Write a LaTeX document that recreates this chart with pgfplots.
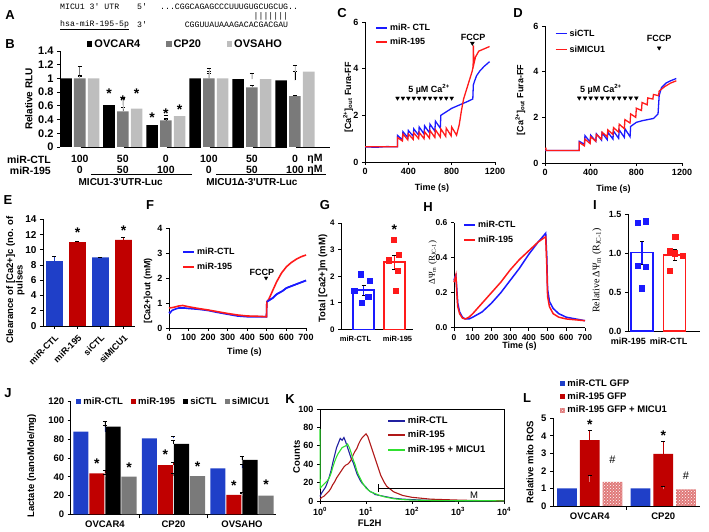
\documentclass[border=0pt]{standalone}
\usepackage{fontspec}
\setmainfont{Liberation Sans}
\newfontfamily\monofont{Liberation Mono}
\newfontfamily\seriffont{Liberation Serif}
\usepackage{pgfplots}
\pgfplotsset{compat=1.18}
\usetikzlibrary{calc,patterns}

\definecolor{exblue}{HTML}{1F3FC8}
\definecolor{exred}{HTML}{C00000}
\definecolor{gpblue}{HTML}{1A1AFF}
\definecolor{gpred}{HTML}{FF1A1A}
\definecolor{kblue}{HTML}{2020A0}
\definecolor{kred}{HTML}{B01818}
\definecolor{kgreen}{HTML}{30E030}
\definecolor{lpink}{HTML}{E07A7A}
\definecolor{bgrey}{HTML}{7A7A7A}
\definecolor{blight}{HTML}{BEBEBE}

\newcommand{\fs}[1]{\fontsize{#1}{#1}\selectfont}

\pgfplotsset{
  gp/.style={scale only axis, anchor=south west, axis lines=left,
    axis line style={-, line width=0.8pt}, tick style={black, line width=0.8pt},
    major tick length=3pt, tick align=outside, clip=false, enlargelimits=false,
    /pgf/number format/assume math mode=true, /pgf/number format/1000 sep={},
    ticklabel style={font=\bfseries\fs{9}}, label style={font=\bfseries\fs{9}},
    legend cell align=left,
    legend style={draw=none, fill=none, inner sep=0pt, font=\bfseries\fs{9}}},
  ylab/.style 2 args={ylabel style={at={(axis description cs:#1,#2)}, anchor=center}},
  xlab/.style 2 args={xlabel style={at={(axis description cs:#1,#2)}, anchor=center}},
  lineleg/.style={legend image code/.code={\draw[##1, line width=1.8pt] (0pt,0pt) -- (11pt,0pt);}},
  barleg/.style={legend image code/.code={\fill[##1] (0pt,-2.6pt) rectangle (5.2pt,2.6pt);}},
}

\begin{document}
\begin{tikzpicture}
\useasboundingbox (0pt,0pt) rectangle (709pt,532pt);

% panel letters
\foreach \l/\x/\y in {A/10/517, B/10/488, C/342/519, D/518/519, E/8/332, F/150/327, G/325/327, H/428/325, I/595/327, J/8/139, K/290/133, L/527/134}
  \node[font=\bfseries\fs{13}] at (\x pt,\y pt) {\l};

% ---------------- A: sequence alignment
\begin{scope}[every node/.style={anchor=west, inner sep=0pt, font=\monofont\fs{8.2}}]
\node at (60pt,525pt) {MICU1 3\textquotesingle\ UTR};
\node at (137pt,525pt) {5\textquotesingle};
\node at (160pt,525pt) {...CGGCAGAGCCCUUUGUGCUGCUG..};
\node at (253.5pt,516pt) {|||||||};
\node at (60pt,507pt) {\underline{hsa-miR-195-5p}};
\node at (137pt,507pt) {3\textquotesingle};
\node at (184.6pt,507pt) {CGGUUAUAAAGACACGACGAU};
\end{scope}

% ---------------- B: luciferase
\begin{axis}[gp, at={(60pt,385pt)}, width=253pt, height=96pt,
  xmin=-0.46, xmax=5.42, ymin=0, ymax=1.4, xtick=\empty,
  x axis line style={draw=none},
  ytick={0,0.2,0.4,0.6,0.8,1,1.2,1.4},
  ticklabel style={font=\bfseries\fs{11}},
  ylabel={Relative RLU}, ylab={-0.123}{0.5}, label style={font=\bfseries\fs{10}},
  barleg, legend columns=-1,
  legend style={at={(axis description cs:0.107,1.073)}, anchor=west, font=\bfseries\fs{11},
    /tikz/every even column/.append style={column sep=24pt}}]
\addplot[ybar, bar width=0.27, bar shift=-0.32, fill=black, draw=none,
  error bars/.cd, y dir=plus, y explicit, error bar style={draw=black, line width=0.6pt}]
  coordinates {(0,1.0)+-(0,0.03) (1,0.61)+-(0,0.12) (2,0.32)+-(0,0.08) (3,1.0)+-(0,0.07) (4,0.99)+-(0,0.09) (5,0.97)+-(0,0.14)};
\addplot[ybar, bar width=0.27, bar shift=0, fill=bgrey, draw=none,
  error bars/.cd, y dir=plus, y explicit, error bar style={draw=bgrey, line width=0.6pt}]
  coordinates {(0,1.0)+-(0,0.18) (1,0.52)+-(0,0.06) (2,0.39)+-(0,0.03) (3,1.0)+-(0,0.11) (4,0.87)+-(0,0.03) (5,0.74)+-(0,0.01)};
\addplot[ybar, bar width=0.27, bar shift=0.32, fill=blight, draw=none,
  error bars/.cd, y dir=plus, y explicit, error bar style={draw=blight, line width=0.6pt}]
  coordinates {(0,1.0)+-(0,0.05) (1,0.56)+-(0,0.15) (2,0.45)+-(0,0.01) (3,1.0)+-(0,0.15) (4,0.99)+-(0,0.08) (5,1.10)+-(0,0.10)};
\legend{OVCAR4, CP20, OVSAHO}
\begin{scope}[every node/.style={font=\bfseries\fs{14}, anchor=base, inner sep=0pt}]
\node at (axis cs:0.68,0.70) {*}; \node at (axis cs:1,0.60) {*}; \node at (axis cs:1.32,0.70) {*};
\node at (axis cs:1.68,0.36) {*}; \node at (axis cs:2,0.42) {*}; \node at (axis cs:2.32,0.47) {*};
\end{scope}
\begin{scope}[every node/.style={font=\bfseries\fs{10.5}, inner sep=0pt}]
\node[anchor=east] at (rel axis cs:0,0) [xshift=-9pt, yshift=-12.3pt] {miR-CTL};
\node[anchor=east] at (rel axis cs:0,0) [xshift=-9pt, yshift=-23.3pt] {miR-195};
\node at (axis cs:0,0) [yshift=-12.3pt] {100}; \node at (axis cs:1,0) [yshift=-12.3pt] {50};
\node at (axis cs:2,0) [yshift=-12.3pt] {0}; \node at (axis cs:3,0) [yshift=-12.3pt] {100};
\node at (axis cs:4,0) [yshift=-12.3pt] {50}; \node at (axis cs:5,0) [yshift=-12.3pt] {0};
\node at (axis cs:0,0) [yshift=-23.3pt] {0}; \node at (axis cs:1,0) [yshift=-23.3pt] {50};
\node at (axis cs:2,0) [yshift=-23.3pt] {100}; \node at (axis cs:3,0) [yshift=-23.3pt] {0};
\node at (axis cs:4,0) [yshift=-23.3pt] {50}; \node at (axis cs:5,0) [yshift=-23.3pt] {100};
\node at (rel axis cs:1,0) [xshift=2pt, yshift=-12.3pt] {ηM};
\node at (rel axis cs:1,0) [xshift=2pt, yshift=-23.3pt] {ηM};
\node[font=\bfseries\fs{10}] at (axis cs:0.95,0) [yshift=-35pt] {MICU1-3\textquotesingle UTR-Luc};
\node[font=\bfseries\fs{10}] at (axis cs:4.0,0) [yshift=-35pt] {MICU1Δ-3\textquotesingle UTR-Luc};
\end{scope}
\draw[line width=0.6pt] ($(axis cs:-0.2,0)+(0,-27pt)$) -- ($(axis cs:2.15,0)+(0,-27pt)$);
\draw[line width=0.6pt] ($(axis cs:2.71,0)+(0,-27pt)$) -- ($(axis cs:5.26,0)+(0,-27pt)$);
\draw[line width=0.8pt] ($(axis cs:-0.44,0)+(0,-0.4pt)$) -- ($(axis cs:0.36,0)+(0,-0.4pt)$);
\draw[line width=0.8pt] ($(axis cs:0.56,0)+(0,-0.4pt)$) -- ($(axis cs:1.36,0)+(0,-0.4pt)$);
\draw[line width=0.8pt] ($(axis cs:1.56,0)+(0,-0.4pt)$) -- ($(axis cs:2.36,0)+(0,-0.4pt)$);
\draw[line width=0.8pt] ($(axis cs:2.56,0)+(0,-0.4pt)$) -- ($(axis cs:3.36,0)+(0,-0.4pt)$);
\draw[line width=0.8pt] ($(axis cs:3.56,0)+(0,-0.4pt)$) -- ($(axis cs:4.36,0)+(0,-0.4pt)$);
\draw[line width=0.8pt] ($(axis cs:4.56,0)+(0,-0.4pt)$) -- ($(axis cs:5.36,0)+(0,-0.4pt)$);
\end{axis}

% ---------------- C: miR-CTL / miR-195 calcium uptake
\begin{axis}[gp, at={(365pt,370pt)}, width=130pt, height=140pt,
  xmin=0, xmax=1200, ymin=0, ymax=6, xtick={0,400,800,1200}, ytick={0,2,4,6},
  xlabel={Time (s)}, xlab={0.515}{-0.186},
  ylabel={[Ca\textsuperscript{2+}]\textsubscript{out} Fura-FF}, ylab={-0.13}{0.46},
  lineleg, legend style={at={(axis description cs:0.077,1.0)}, anchor=north west, row sep=2pt}]
\addplot[gpblue, line width=1.3pt] coordinates {
 (0,0.65)(100,0.63)(200,0.66)(299,0.65)
 (300,1.14)(345,0.95)(350,1.30)(395,1.05)(400,1.35)(445,1.10)(450,1.42)(495,1.15)
 (500,1.50)(545,1.20)(550,1.55)(595,1.25)(600,1.62)(645,1.32)(650,1.75)(695,1.45)
 (700,2.00)(750,2.15)(800,2.30)(850,2.40)(900,2.50)(950,2.60)(995,2.70)
 (1000,3.30)(1010,3.45)(1030,3.70)(1060,3.90)(1100,4.10)(1150,4.30)};
\addplot[gpred, line width=1.3pt] coordinates {
 (0,0.65)(299,0.65)
 (300,1.05)(345,0.90)(350,1.20)(395,0.95)(400,1.20)(445,0.97)(450,1.25)(495,1.00)
 (500,1.27)(545,1.00)(550,1.30)(595,1.02)(600,1.35)(645,1.05)(650,1.38)(695,1.07)
 (700,1.42)(745,1.10)(750,1.45)(795,1.12)(800,1.50)(845,1.15)
 (870,1.60)(890,2.20)(910,2.70)(930,3.00)(950,3.30)(970,3.60)(990,3.90)(998,4.10)
 (1000,5.00)(1005,4.20)(1020,4.50)(1050,4.75)(1100,4.85)(1150,4.95)};
\legend{miR- CTL, miR-195}
\addplot[only marks, mark=triangle*, mark size=2.2pt, mark options={rotate=180, black}, forget plot]
  coordinates {(300,2.74)(350,2.74)(400,2.74)(450,2.74)(500,2.74)(550,2.74)(600,2.74)(650,2.74)(700,2.74)(750,2.74)(800,2.74)(991,5.09)};
\node[font=\bfseries\fs{9}] at (axis cs:591,3.13) {5 µM Ca\textsuperscript{2+}};
\node[font=\bfseries\fs{9}] at (axis cs:997,5.35) {FCCP};
\end{axis}

% ---------------- D: siCTL / siMICU1
\begin{axis}[gp, at={(545pt,369pt)}, width=137pt, height=137pt,
  xmin=0, xmax=1200, ymin=0, ymax=6, xtick={0,400,800,1200}, ytick={0,2,4,6},
  xlabel={Time (s)}, xlab={0.5}{-0.19},
  ylabel={[Ca\textsuperscript{2+}]\textsubscript{out} Fura-FF}, ylab={-0.18}{0.46},
  lineleg, legend style={at={(axis description cs:0.07,0.99)}, anchor=north west, row sep=4pt}]
\addplot[gpblue, line width=1.3pt] coordinates {
 (0,0.55)(299,0.55)
 (300,0.95)(345,0.82)(350,1.20)(395,0.92)(400,1.22)(445,0.95)(450,1.28)(495,1.00)
 (500,1.32)(545,1.02)(550,1.35)(595,1.05)(600,1.40)(645,1.08)(650,1.45)(695,1.12)
 (700,1.50)(745,1.15)(750,1.60)(800,1.78)(850,1.85)(900,1.90)(950,1.95)(990,2.15)
 (1000,2.95)(1020,3.30)(1060,3.50)(1100,3.60)(1150,3.70)};
\addplot[gpred, line width=1.3pt] coordinates {
 (0,0.65)(8,0.65)(10,0.55)(299,0.55)
 (300,0.90)(345,0.75)(350,1.05)(395,0.85)(400,1.15)(445,0.95)(450,1.25)(495,1.05)
 (500,1.35)(545,1.15)(550,1.45)(595,1.25)(600,1.55)(645,1.35)(650,1.70)(695,1.50)
 (700,1.90)(745,1.75)(750,2.15)(795,2.00)(800,2.40)(845,2.30)(850,2.65)(895,2.55)
 (900,2.85)(945,2.80)(950,3.00)(995,2.95)(1000,3.15)(1050,3.35)(1100,3.50)(1150,3.60)};
\legend{siCTL, siMICU1}
\addplot[only marks, mark=triangle*, mark size=2.2pt, mark options={rotate=180, black}, forget plot]
  coordinates {(300,2.85)(350,2.85)(400,2.85)(450,2.85)(500,2.85)(550,2.85)(600,2.85)(650,2.85)(700,2.85)(750,2.85)(800,2.85)(1000,5.04)};
\node[font=\bfseries\fs{9}] at (axis cs:490,3.24) {5 µM Ca\textsuperscript{2+}};
\node[font=\bfseries\fs{9}] at (axis cs:999,5.45) {FCCP};
\end{axis}

% ---------------- E: clearance
\begin{axis}[gp, at={(43pt,206pt)}, width=92pt, height=106.7pt,
  xmin=-0.5, xmax=3.5, ymin=0, ymax=14, ytick={0,2,4,6,8,10,12,14},
  xtick={0,1,2,3}, xticklabels={miR-CTL,miR-195,siCTL,siMICU1},
  ticklabel style={font=\bfseries\fs{10}},
  x tick label style={rotate=45, anchor=north east, font=\bfseries\fs{9}},
  ylabel={Clearance of [Ca2+]c (no. of\\pulses}, ylab={-0.30}{0.43},
  label style={font=\bfseries\fs{9.5}, align=center}]
\addplot[ybar, bar width=0.72, bar shift=0, fill=exblue, draw=none,
  error bars/.cd, y dir=plus, y explicit, error bar style={draw=exblue, line width=0.6pt}]
  coordinates {(0,8.5)+-(0,0.6) (2,9.0)+-(0,0.05)};
\addplot[ybar, bar width=0.72, bar shift=0, fill=exred, draw=none,
  error bars/.cd, y dir=plus, y explicit, error bar style={draw=exred, line width=0.6pt}]
  coordinates {(1,11.0)+-(0,0.12) (3,11.3)+-(0,0.3)};
\node[font=\bfseries\fs{14}, anchor=base, inner sep=0pt] at (axis cs:1,11.6) {*};
\node[font=\bfseries\fs{14}, anchor=base, inner sep=0pt] at (axis cs:3,11.9) {*};
\end{axis}

% ---------------- F: FCCP release
\begin{axis}[gp, at={(169pt,204pt)}, width=137pt, height=100pt,
  xmin=0, xmax=700, ymin=0, ymax=4, xtick={0,100,...,700}, ytick={0,1,2,3,4},
  xlabel={Time (s)}, xlab={0.55}{-0.24},
  ylabel={[Ca2+]out (mM)}, ylab={-0.153}{0.37},
  lineleg, legend style={at={(axis description cs:0.095,0.82)}, anchor=north west, row sep=3pt}]
\addplot[gpblue, line width=1.6pt] coordinates {
 (0,0.65)(5,0.60)(15,0.70)(30,0.75)(50,0.80)(80,0.80)(100,0.78)(150,0.75)(200,0.70)
 (250,0.62)(300,0.55)(350,0.48)(400,0.45)(450,0.45)(498,0.45)
 (500,1.05)(510,1.10)(530,1.20)(550,1.35)(580,1.48)(600,1.60)(650,1.75)(700,1.90)};
\addplot[gpred, line width=1.6pt] coordinates {
 (0,0.80)(20,0.82)(50,0.88)(70,0.90)(100,0.85)(150,0.78)(200,0.72)(250,0.65)
 (300,0.58)(350,0.52)(400,0.48)(450,0.47)(498,0.45)
 (500,1.05)(510,1.15)(530,1.50)(550,1.85)(575,2.20)(600,2.45)(625,2.62)(650,2.75)(675,2.85)(700,2.92)};
\addplot[gpblue, line width=1.6pt, forget plot] coordinates {
 (500,1.05)(510,1.10)(530,1.20)(550,1.35)(580,1.48)(600,1.60)(650,1.75)(700,1.90)};
\legend{miR-CTL, miR-195}
\addplot[only marks, mark=triangle*, mark size=2pt, mark options={rotate=180, black}, forget plot]
  coordinates {(496,2.0)};
\node[font=\bfseries\fs{9}] at (axis cs:475,2.22) {FCCP};
\end{axis}

% ---------------- G: total mito Ca
\begin{axis}[gp, at={(341pt,202.5pt)}, width=72pt, height=106.5pt,
  xmin=-0.73, xmax=1.6, ymin=0, ymax=4, ytick={0,1,2,3,4},
  xtick={-0.26,1.1}, xticklabels={miR-CTL,miR-195}, xtick style={draw=none},
  ticklabel style={font=\bfseries\fs{8}}, xticklabel style={font=\bfseries\fs{7.5}},
  ylabel={Total [Ca2+]m (mM)}, ylab={-0.25}{0.48}, label style={font=\bfseries\fs{9.5}}]
\addplot[ybar, bar width=0.67, bar shift=0, fill=white, draw=gpblue, line width=1.6pt,
  error bars/.cd, y dir=both, y explicit, error bar style={draw=gpblue, line width=1.2pt}]
  coordinates {(0,1.48)+-(0,0.18)};
\addplot[ybar, bar width=0.67, bar shift=0, fill=white, draw=gpred, line width=1.6pt,
  error bars/.cd, y dir=both, y explicit, error bar style={draw=gpred, line width=1.2pt}]
  coordinates {(1,2.53)+-(0,0.25)};
\addplot[only marks, mark=square*, mark size=2.6pt, gpblue]
  coordinates {(-0.08,2.08)(0.2,1.82)(-0.3,1.45)(0.15,1.22)(-0.05,1.0)};
\addplot[only marks, mark=square*, mark size=2.6pt, gpred]
  coordinates {(0.97,3.37)(1.15,2.81)(0.82,2.6)(1.1,2.2)(1.05,1.46)};
\node[font=\bfseries\fs{14}, anchor=base, inner sep=0pt] at (axis cs:1,3.55) {*};
\end{axis}

% ---------------- H: membrane potential trace
\begin{axis}[gp, at={(454pt,204.3pt)}, width=131pt, height=105pt,
  xmin=0, xmax=700, ymin=0, ymax=0.6, xtick={0,100,...,700}, ytick={0,0.2,0.4,0.6},
  yticklabel style={/pgf/number format/fixed, /pgf/number format/fixed zerofill, /pgf/number format/precision=1},
  ticklabel style={font=\bfseries\fs{8.5}},
  xlabel={Time (s)}, xlab={0.5}{-0.18},
  ylabel={\seriffont\mdseries ΔΨ\textsubscript{m} (R\textsubscript{JC-1})}, ylab={-0.163}{0.62},
  lineleg, legend style={at={(axis description cs:0.07,1.04)}, anchor=north west, row sep=3pt}]
\addplot[gpblue, line width=1.5pt] coordinates {
 (0,0.27)(5,0.29)(10,0.30)(15,0.22)(20,0.14)(30,0.09)(45,0.06)(60,0.05)(80,0.05)
 (100,0.06)(150,0.09)(200,0.14)(250,0.20)(300,0.27)(350,0.34)(400,0.42)(450,0.49)(490,0.54)
 (496,0.40)(500,0.22)(510,0.15)(530,0.11)(560,0.08)(600,0.06)(650,0.05)(700,0.04)};
\addplot[gpred, line width=1.5pt] coordinates {
 (0,0.26)(5,0.28)(10,0.30)(15,0.20)(20,0.12)(30,0.08)(45,0.055)(60,0.05)(80,0.06)
 (100,0.08)(150,0.14)(200,0.20)(250,0.26)(300,0.33)(350,0.39)(400,0.44)(450,0.49)(490,0.52)
 (496,0.35)(500,0.18)(510,0.12)(530,0.08)(560,0.06)(600,0.05)(650,0.045)(700,0.04)};
\legend{miR-CTL, miR-195}
\end{axis}

% ---------------- I: relative membrane potential
\begin{axis}[gp, at={(628pt,201pt)}, width=72pt, height=116.7pt,
  xmin=-0.43, xmax=1.78, ymin=0, ymax=1.5, ytick={0,0.5,1,1.5},
  yticklabel style={/pgf/number format/fixed, /pgf/number format/fixed zerofill, /pgf/number format/precision=1},
  xtick={-0.42,0.82}, xticklabels={miR-195,miR-CTL}, xtick style={draw=none},
  ylabel={\seriffont\mdseries Relative ΔΨ\textsubscript{m} (R\textsubscript{JC-1})}, ylab={-0.43}{0.52},
  label style={font=\fs{10}}]
\addplot[ybar, bar width=0.67, bar shift=0, fill=white, draw=gpblue, line width=1.6pt,
  error bars/.cd, y dir=both, y explicit, error bar style={draw=gpblue, line width=1.2pt}]
  coordinates {(0,1.01)+-(0,0.15)};
\addplot[ybar, bar width=0.67, bar shift=0, fill=white, draw=gpred, line width=1.6pt,
  error bars/.cd, y dir=both, y explicit, error bar style={draw=gpred, line width=1.2pt}]
  coordinates {(1,0.98)+-(0,0.07)};
\addplot[only marks, mark=square*, mark size=2.6pt, gpblue]
  coordinates {(-0.13,1.39)(0.12,1.41)(-0.13,0.84)(0.12,0.83)(0,0.55)};
\addplot[only marks, mark=square*, mark size=2.6pt, gpred]
  coordinates {(1.02,1.21)(0.86,1.03)(1.0,1.0)(1.25,0.97)(0.86,0.77)};
\end{axis}

% ---------------- J: lactate
\begin{axis}[gp, at={(70.7pt,17.7pt)}, width=205.5pt, height=112.6pt,
  xmin=-0.5, xmax=2.5, ymin=0, ymax=120, ytick={0,20,...,120},
  xtick={0,1,2}, xticklabels={OVCAR4,CP20,OVSAHO}, xtick style={draw=none},
  extra x ticks={0.5,1.5}, extra x tick labels={},
  extra x tick style={xtick style={draw=black, line width=0.8pt}, major tick length=4pt},
  ticklabel style={font=\bfseries\fs{9.5}},
  ylabel={Lactate (nanoMole/mg)}, ylab={-0.19}{0.43}, label style={font=\bfseries\fs{9.5}},
  barleg, legend columns=-1,
  legend style={at={(axis description cs:0.026,1.0)}, anchor=west, font=\bfseries\fs{9.5},
    /tikz/every even column/.append style={column sep=6pt}}]
\addplot[ybar, bar width=0.22, bar shift=-0.351, fill=exblue, draw=none,
  error bars/.cd, y dir=plus, y explicit, error bar style={draw=exblue, line width=0.6pt}]
  coordinates {(0,88)+-(0,7) (1,81)+-(0,2.4) (2,49)+-(0,4.6)};
\addplot[ybar, bar width=0.22, bar shift=-0.117, fill=exred, draw=none,
  error bars/.cd, y dir=plus, y explicit, error bar style={draw=exred, line width=0.6pt}]
  coordinates {(0,43.7)+-(0,3.5) (1,52.5)+-(0,3.5) (2,20.6)+-(0,2.4)};
\addplot[ybar, bar width=0.22, bar shift=0.117, fill=black, draw=none,
  error bars/.cd, y dir=plus, y explicit, error bar style={draw=black, line width=0.6pt}]
  coordinates {(0,93.4)+-(0,6) (1,75)+-(0,4) (2,57.9)+-(0,4)};
\addplot[ybar, bar width=0.22, bar shift=0.351, fill=bgrey, draw=none,
  error bars/.cd, y dir=plus, y explicit, error bar style={draw=bgrey, line width=0.6pt}]
  coordinates {(0,40.1)+-(0,3) (1,40.8)+-(0,3.5) (2,19.8)+-(0,4)};
\legend{miR-CTL, miR-195, siCTL, siMICU1}
\begin{scope}[every node/.style={font=\bfseries\fs{14}, anchor=base, inner sep=0pt}]
\node at (axis cs:-0.117,49) {*}; \node at (axis cs:0.351,45) {*};
\node at (axis cs:0.883,58) {*}; \node at (axis cs:1.351,46) {*};
\node at (axis cs:1.883,25) {*}; \node at (axis cs:2.351,26) {*};
\end{scope}
\end{axis}

% ---------------- K: flow cytometry
\begin{axis}[gp, axis lines=box, xtick pos=bottom, ytick pos=left,
  at={(320pt,31pt)}, width=184pt, height=92pt,
  xmin=0, xmax=4, ymin=0, ymax=100, ytick={0,20,...,100},
  xtick={0,1,2,3,4},
  xticklabels={10\textsuperscript{0},10\textsuperscript{1},10\textsuperscript{2},10\textsuperscript{3},10\textsuperscript{4}},
  ticklabel style={font=\bfseries\fs{9}},
  xlabel={FL2H}, xlab={0.27}{-0.24}, ylabel={Counts}, ylab={-0.127}{0.48},
  label style={font=\bfseries\fs{9.5}},
  lineleg, legend style={at={(axis description cs:0.364,0.94)}, anchor=north west, row sep=2pt, font=\bfseries\fs{9.5}},
  legend image code/.code={\draw[#1, line width=1.8pt] (0pt,0pt) -- (17pt,0pt);}]
\addplot[kblue, line width=1.1pt] coordinates {
 (0,5)(0.04,9)(0.08,12)(0.12,15)(0.16,20)(0.2,26)(0.24,33)(0.28,42)(0.32,50)(0.36,58)
 (0.4,63)(0.44,68)(0.48,66)(0.52,69)(0.56,64)(0.6,58)(0.64,52)(0.68,46)(0.72,42)(0.76,36)
 (0.8,30)(0.84,26)(0.88,22)(0.92,19)(0.96,17)(1.0,15)(1.05,12)(1.1,10)(1.15,9)(1.2,7)
 (1.3,6)(1.4,5)(1.5,4)(1.6,3)(1.7,2.5)(1.8,2)(2.0,1.5)(2.2,1)(2.5,0.8)(2.8,0.5)(3.2,0.3)(3.6,0.2)(4,0)};
\addplot[kred, line width=1.1pt] coordinates {
 (0,2)(0.04,4)(0.08,5)(0.12,7)(0.16,9)(0.2,11)(0.24,14)(0.28,18)(0.32,21)(0.36,25)
 (0.4,28)(0.44,31)(0.48,34)(0.52,37)(0.56,39)(0.6,40)(0.64,42)(0.68,45)(0.72,50)(0.76,54)
 (0.8,57)(0.84,62)(0.88,66)(0.92,69)(0.96,71)(1.0,73)(1.04,70)(1.08,64)(1.12,58)(1.16,52)
 (1.2,46)(1.24,40)(1.28,34)(1.32,28)(1.36,24)(1.4,20)(1.45,16)(1.5,14)(1.6,10)(1.7,8)
 (1.8,6)(1.9,5)(2.0,4)(2.2,3)(2.4,2)(2.7,1.5)(3.0,1)(3.4,0.5)(4,0.2)};
\addplot[kgreen, line width=1.1pt] coordinates {
 (0,78)(0.005,14)(0.04,16)(0.08,18)(0.12,20)(0.16,22)(0.2,25)(0.24,30)(0.28,37)(0.32,43)
 (0.36,48)(0.4,52)(0.44,55)(0.48,58)(0.52,59)(0.56,60)(0.6,62)(0.64,58)(0.68,52)(0.72,45)
 (0.76,40)(0.8,33)(0.84,28)(0.88,24)(0.92,20)(0.96,17)(1.0,14)(1.1,10)(1.2,8)(1.3,6)
 (1.4,4.5)(1.6,2.5)(1.8,1.5)(2.0,1)(2.5,0.5)(3,0.3)(4,0.2)};
\legend{miR-CTL, miR-195, miR-195 + MICU1}
\draw[line width=0.6pt] (axis cs:1.26,14) -- (axis cs:4,14);
\draw[line width=0.6pt] (axis cs:1.26,10) -- (axis cs:1.26,18);
\node[font=\fs{9.5}] at (axis cs:3.35,6.5) {M};
\end{axis}

% ---------------- L: mito ROS
\begin{axis}[gp, at={(553pt,26pt)}, width=147pt, height=87.7pt,
  xmin=-0.5, xmax=1.5, ymin=0, ymax=5, ytick={0,1,2,3,4,5},
  xtick={0,1}, xticklabels={OVCAR4,CP20}, xtick style={draw=none},
  extra x ticks={0.5}, extra x tick labels={},
  extra x tick style={xtick style={draw=black, line width=0.8pt}, major tick length=4pt},
  ticklabel style={font=\bfseries\fs{9.5}},
  ylabel={Relative mito ROS}, ylab={-0.156}{0.5}, label style={font=\bfseries\fs{9.5}},
  barleg, legend style={at={(axis description cs:0.048,1.47)}, anchor=north west, row sep=1pt, font=\bfseries\fs{9.5}}]
\addplot[ybar, bar width=0.27, bar shift=-0.31, fill=exblue, draw=none]
  coordinates {(0,1.0) (1,1.0)};
\addplot[ybar, bar width=0.27, bar shift=0, fill=exred, draw=none,
  error bars/.cd, y dir=plus, y explicit, error bar style={draw=exred, line width=0.6pt}]
  coordinates {(0,3.75)+-(0,0.58) (1,2.97)+-(0,0.73)};
\addplot[ybar, bar width=0.27, bar shift=0.31, fill=lpink, draw=none,
  postaction={pattern=crosshatch dots, pattern color=white},
  error bars/.cd, y dir=plus, y explicit, error bar style={draw=lpink, line width=0.6pt}]
  coordinates {(0,1.38)+-(0,0.39) (1,0.95)+-(0,0.19)};
\legend{miR-CTL GFP, miR-195 GFP, miR-195 GFP + MICU1}
\node[font=\bfseries\fs{14}, anchor=base, inner sep=0pt] at (axis cs:0,4.35) {*};
\node[font=\bfseries\fs{14}, anchor=base, inner sep=0pt] at (axis cs:1,3.75) {*};
\node[font=\fs{11}] at (axis cs:0.31,2.62) {\#};
\node[font=\fs{11}] at (axis cs:1.31,1.7) {\#};
\end{axis}

\end{tikzpicture}
\end{document}
